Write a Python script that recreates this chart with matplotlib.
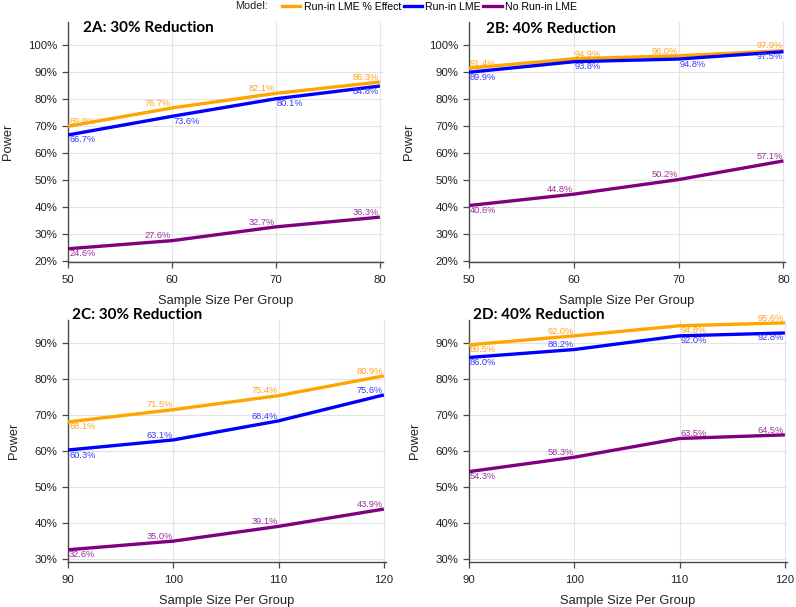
import matplotlib
matplotlib.use('Agg')
import matplotlib.pyplot as plt
from matplotlib.lines import Line2D
from matplotlib.ticker import FuncFormatter

plt.rcParams['font.family'] = ['Liberation Sans', 'DejaVu Sans']

W, H = 796, 607

# sample sizes
x_top = [50, 60, 70, 80]
x_bot = [90, 100, 110, 120]

# power (%) per panel: run-in LME % effect, run-in LME, no run-in LME
a_eff = [69.9, 76.7, 82.1, 86.3]
a_lme = [66.7, 73.6, 80.1, 84.8]
a_no = [24.6, 27.6, 32.7, 36.3]

b_eff = [91.4, 94.9, 96.0, 97.9]
b_lme = [89.9, 93.8, 94.8, 97.5]
b_no = [40.6, 44.8, 50.2, 57.1]

c_eff = [68.1, 71.5, 75.4, 80.9]
c_lme = [60.3, 63.1, 68.4, 75.6]
c_no = [32.6, 35.0, 39.1, 43.9]

d_eff = [89.5, 92.0, 94.8, 95.6]
d_lme = [86.0, 88.2, 92.0, 92.8]
d_no = [54.3, 58.3, 63.5, 64.5]

series_names = ['Run-in LME % Effect', 'Run-in LME', 'No Run-in LME']
line_colors = ['#ffa500', '#0000ff', '#800080']
text_colors = ['#ffa31a', '#3a3aff', '#993399']

# where each value label sits relative to its point
pos_a = [['ne', 'nw', 'nw', 'nw'], ['se', 'se', 'se', 'sw'], ['se', 'nw', 'nw', 'nw']]
pos_b = [['ne', 'ne', 'nw', 'nw'], ['se', 'se', 'se', 'sw'], ['se', 'nw', 'nw', 'nw']]
pos_c = [['se', 'nw', 'nw', 'nw'], ['se', 'nw', 'nw', 'nw'], ['se', 'nw', 'nw', 'nw']]
pos_d = [['se', 'nw', 'se', 'nw'], ['se', 'nw', 'se', 'sw'], ['se', 'nw', 'ne', 'nw']]


def px_axes(fig, left, top, right, bottom):
    return fig.add_axes([left / W, 1 - bottom / H, (right - left) / W, (bottom - top) / H])


def draw_panel(ax, x, ys, positions, xlim, ylim, yticks):
    for y, lc, tc, pos in zip(ys, line_colors, text_colors, positions):
        ax.plot(x, y, color=lc, lw=2.4, solid_capstyle='butt', zorder=3)
        for xi, yi, p in zip(x, y, pos):
            dy = 3.4 if p[0] == 'n' else -3.6
            ha = 'left' if p[1] == 'e' else 'right'
            dx = 0.8 if ha == 'left' else -0.5
            ax.annotate('%.1f%%' % yi, (xi, yi), xytext=(dx, dy), textcoords='offset points',
                        ha=ha, va='center', fontsize=6.7, color=tc, zorder=4)
    ax.set_xlim(*xlim)
    ax.set_ylim(*ylim)
    ax.set_xticks(x)
    ax.set_yticks(yticks)
    ax.yaxis.set_major_formatter(FuncFormatter(lambda v, p: '%d%%' % v))
    ax.grid(True, color='#e3e3e3', lw=0.8, zorder=0)
    ax.set_axisbelow(True)
    for s in ['top', 'right']:
        ax.spines[s].set_visible(False)
    for s in ['left', 'bottom']:
        ax.spines[s].set_color('#4a4a4a')
        ax.spines[s].set_linewidth(1.0)
    ax.tick_params(axis='both', direction='out', length=4.3, width=0.9, color='#4a4a4a',
                   labelsize=8.2, labelcolor='#222222')
    ax.tick_params(axis='x', pad=5)
    ax.tick_params(axis='y', pad=3.5)
    ax.set_xlabel('Sample Size Per Group', fontsize=9.3, color='#222222', labelpad=7)
    ax.set_ylabel('Power', fontsize=9.3, color='#222222', labelpad=10)


fig = plt.figure(figsize=(W / 100, H / 100), dpi=100)

ax_a = px_axes(fig, 68, 22, 383, 262)
draw_panel(ax_a, x_top, [a_eff, a_lme, a_no], pos_a, (50, 80.3), (19.7, 108.5), range(20, 101, 10))
ax_b = px_axes(fig, 469, 22, 785, 262)
draw_panel(ax_b, x_top, [b_eff, b_lme, b_no], pos_b, (50, 80.15), (19.7, 108.5), range(20, 101, 10))
ax_c = px_axes(fig, 68, 320, 386, 562)
draw_panel(ax_c, x_bot, [c_eff, c_lme, c_no], pos_c, (90, 120.2), (29.2, 96.4), range(30, 91, 10))
ax_d = px_axes(fig, 469, 320, 787, 562)
draw_panel(ax_d, x_bot, [d_eff, d_lme, d_no], pos_d, (90, 120.2), (29.2, 96.4), range(30, 91, 10))

titles = ['2A: 30% Reduction', '2B: 40% Reduction', '2C: 30% Reduction', '2D: 40% Reduction']
title_xy = [(83, 28), (486, 29), (72, 315), (473, 315)]
for t, (tx, ty) in zip(titles, title_xy):
    fig.text(tx / W, 1 - ty / H, t, fontsize=11, fontweight='bold', family='Lato',
             ha='left', va='center', color='black')

# legend across the top
fig.text(235 / W, 1 - 6 / H, 'Model:', fontsize=7.8, ha='left', va='center', color='#222222')
handles = [Line2D([0], [0], color=c, lw=2.4) for c in line_colors]
fig.legend(handles, series_names, loc='center left', bbox_to_anchor=(282 / W, 1 - 6.5 / H),
           ncol=3, frameon=False, fontsize=7.6, handlelength=1.75, handletextpad=0.3,
           columnspacing=0.25, borderaxespad=0, borderpad=0)

fig.savefig('out.png', dpi=100)
